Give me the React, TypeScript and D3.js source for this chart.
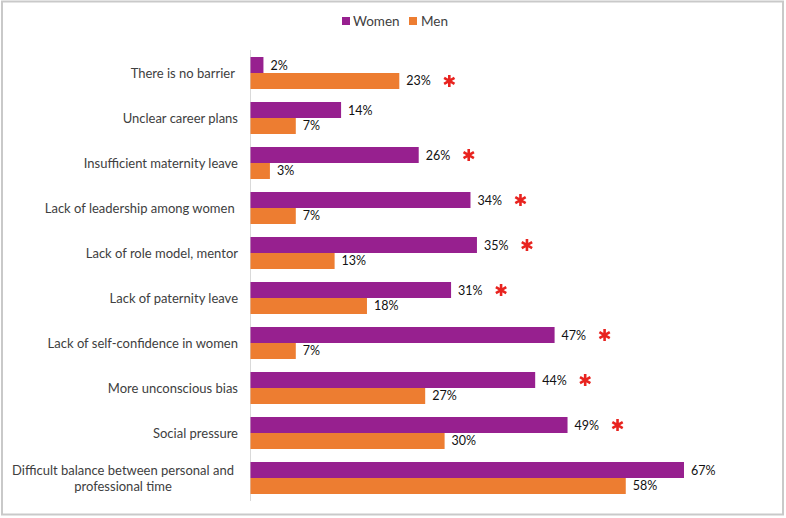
import * as d3 from "d3";

const categories = [
  "There is no barrier ",
  "Unclear career plans",
  "Insufficient maternity leave",
  "Lack of leadership among women ",
  "Lack of role model, mentor",
  "Lack of paternity leave",
  "Lack of self-confidence in women",
  "More unconscious bias",
  "Social pressure",
  "Difficult balance between personal and\nprofessional time",
];
const series = ["Women", "Men"];
const women = [2, 14, 26, 34, 35, 31, 47, 44, 49, 67];
const men = [23, 7, 3, 7, 13, 18, 7, 27, 30, 58];
// which series carries the red significance star, per category
const starred = ["Men", "", "Women", "Women", "Women", "Women", "Women", "Women", "Women", ""];

const W = 786;
const H = 518;
const AXIS_X = 250.5;
const FONT = "Lato, 'Open Sans', sans-serif";
const colors: Record<string, string> = { Women: "#97208f", Men: "#ed7d31" };

const Star = ({ x, y }: { x: number; y: number }) => {
  const r = 6;
  const arms = [90, 30, 150].map((a) => {
    const t = (a * Math.PI) / 180;
    return `M${x - r * Math.cos(t)},${y - r * Math.sin(t)}L${x + r * Math.cos(t)},${y + r * Math.sin(t)}`;
  });
  return <path d={arms.join("")} stroke="#e8231f" strokeWidth={2.6} />;
};

export default function App() {
  const y = d3.scaleBand<string>().domain(categories).range([50.5, 500.5]).paddingInner(0.289).paddingOuter(0.1445);
  const sub = d3.scaleBand<string>().domain(series).range([0, y.bandwidth()]);
  const x = d3.scaleLinear().domain([0, 80]).range([AXIS_X, AXIS_X + 80 * 6.47]);

  const rows = categories.map((cat, i) => {
    const vals: Record<string, number> = { Women: women[i], Men: men[i] };
    const y0 = y(cat)!;
    const lines = cat.split("\n");
    const cy = y0 + y.bandwidth() / 2;
    return (
      <g key={cat}>
        {series.map((s) => {
          const by = y0 + sub(s)!;
          const mid = by + sub.bandwidth() / 2;
          return (
            <g key={s}>
              <rect x={x(0)} y={by} width={x(vals[s]) - x(0)} height={sub.bandwidth()} fill={colors[s]} />
              <text x={x(vals[s]) + 7} y={mid} dominantBaseline="central" fontSize={12.5} fill="#111">
                {vals[s]}%
              </text>
              {starred[i] === s && <Star x={x(vals[s]) + 50} y={mid} />}
            </g>
          );
        })}
        {lines.length === 1 ? (
          <text x={238} y={cy} textAnchor="end" dominantBaseline="central" fontSize={13} fill="#404040" style={{ whiteSpace: "pre" }}>
            {cat}
          </text>
        ) : (
          lines.map((ln, j) => (
            <text key={j} x={123} y={cy + (j - (lines.length - 1) / 2) * 16.7} textAnchor="middle" dominantBaseline="central" fontSize={13} fill="#404040">
              {ln}
            </text>
          ))
        )}
      </g>
    );
  });

  return (
    <svg width={W} height={H} style={{ position: "absolute", left: 0, top: 0 }} fontFamily={FONT}>
      <rect x={0} y={0} width={W} height={H} fill="#fff" />
      <rect x={2} y={1.5} width={781} height={513} fill="none" stroke="#c9c9c9" strokeWidth={2} />
      <line x1={AXIS_X} x2={AXIS_X} y1={50} y2={501} stroke="#d9d9d9" />
      {rows}
      <g fontSize={13.5} fill="#404040">
        <rect x={342} y={17} width={8} height={8} fill={colors.Women} />
        <text x={353} y={21} dominantBaseline="central">Women</text>
        <rect x={409} y={17} width={8} height={8} fill={colors.Men} />
        <text x={421} y={21} dominantBaseline="central">Men</text>
      </g>
    </svg>
  );
}
